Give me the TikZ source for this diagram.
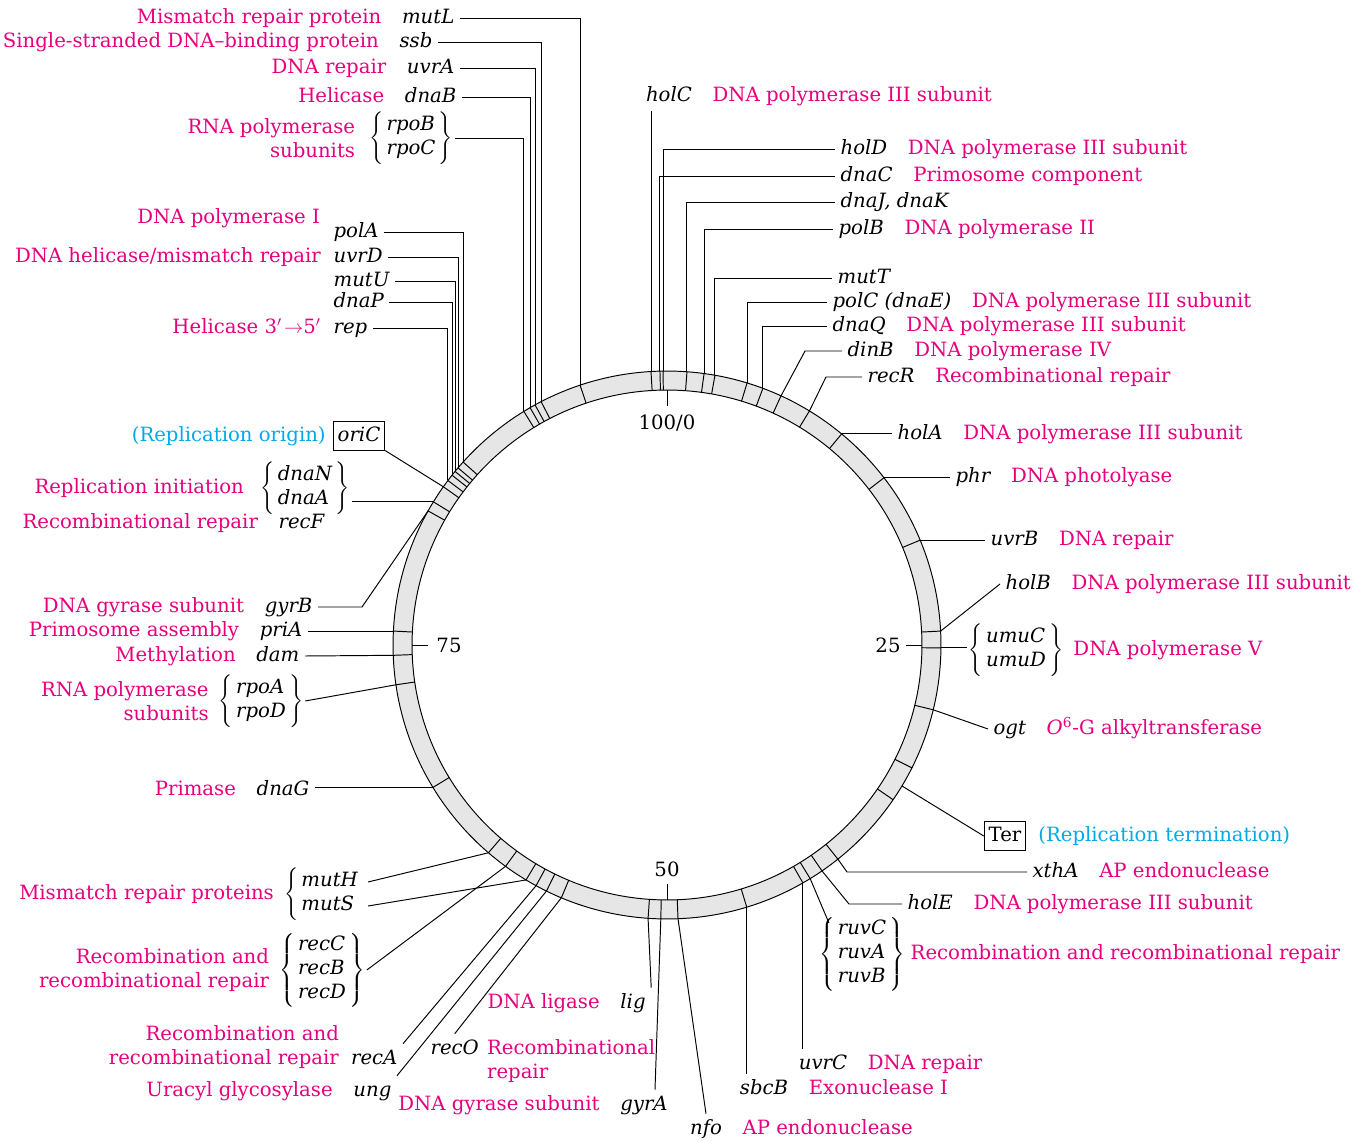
\documentclass[tikz,border=0pt]{standalone}
\usepackage{fontspec}
\setmainfont{DejaVu Serif}
\usetikzlibrary{positioning,calc}

\definecolor{dnapink}{RGB}{230,0,126}
\definecolor{oricyan}{RGB}{0,170,230}
\definecolor{ringfill}{RGB}{230,230,230}

\newcommand{\genefont}{\fontsize{11.2}{13.6}\selectfont}
\newcommand{\genepair}[2]{$\left\{\begin{array}{@{\,}l@{\,}}\textit{#1}\\\textit{#2}\end{array}\right\}$}
\newcommand{\genepairleft}[2]{$\left\{\begin{array}{@{\,}l@{}}\textit{#1}\\\textit{#2}\end{array}\right.$}
\newcommand{\genetriple}[3]{$\left\{\begin{array}{@{\,}l@{\,}}\textit{#1}\\\textit{#2}\\\textit{#3}\end{array}\right\}$}

\tikzset{
  gene/.style={font=\genefont\itshape, inner sep=3pt, text height=8.5pt, text depth=2.5pt},
  func/.style={text=dnapink, inner sep=1pt, text height=8.5pt, text depth=2.5pt},
  functwo/.style={text=dnapink, inner sep=1pt},
  note/.style={text=oricyan, inner sep=1pt, text height=8.5pt, text depth=2.5pt},
  grp/.style={inner sep=1pt},
  site/.style={draw, line width=.6pt, inner sep=2.5pt, text height=8.5pt, text depth=2.5pt},
  lead/.style={line width=.55pt},
  tick/.style={line width=.55pt},
}

\begin{document}
\begin{tikzpicture}[x=0.02cm,y=-0.02cm,every node/.style={font=\genefont},node distance=0.26cm]
  \useasboundingbox (0,0) rectangle (1368,1141);
  \coordinate (C) at (667,645);

  % chromosome ring
  \fill[ringfill, even odd rule] (C) circle (5.48cm) (C) circle (5.1cm);
  \draw[tick] (C) circle (5.48cm);
  \draw[tick] (C) circle (5.1cm);

  % gene positions (min) -> tick across the ring
  \foreach \g/\p in {mutL/94.86, ssb/92.4, uvrA/92.0, dnaB/91.67, rpoBC/91.25,
      polA/86.64, uvrD/86.19, mutU/85.92, dnaP/85.64, rep/85.25,
      oriC/84.8, dnaNA/83.75, gyrB/83.14, priA/75.81, dam/74.4, rpoAD/72.68, dnaG/66.3,
      mutH/61.3, recCBD/60.03, mutS/58.6, recA/57.93, ung/57.25, recO/56.3,
      lig/51.1, gyrA/50.36, nfo/49.36, sbcB/45.3, uvrC/41.74, ruv/41.25, holE/40.43, xthA/39.28,
      TerR/34.55, TerL/32.4, ogt/28.8, umu/25.17, holB/24.19, uvrB/18.75, phr/14.55, holA/11.0,
      recR/8.7, dinB/6.83, dnaQ/5.69, polC/4.72, mutT/2.80, polB/2.16, dnaJK/1.16,
      holC/99.07, dnaC/99.59, holD/99.77} {
    \coordinate (r-\g) at ($(C)+({3.6*\p-90}:274)$);
    \draw[tick] ($(C)+({3.6*\p-90}:255)$) -- (r-\g);
  }
  \coordinate (r-Ter) at ($(C)+({3.6*33.6-90}:274)$);

  % map scale
  \draw[tick] ($(C)+(-90:255)$) -- ($(C)+(-90:239)$);
  \draw[tick] ($(C)+(0:255)$) -- ($(C)+(0:239)$);
  \draw[tick] ($(C)+(90:255)$) -- ($(C)+(90:239)$);
  \draw[tick] ($(C)+(180:255)$) -- ($(C)+(180:239)$);
  \node (m100) at ($(C)+(-90:222)$) {100/0};
  \node (m25) at ($(C)+(0:221)$) {25};
  \node (m50) at ($(C)+(90:224)$) {50};
  \node (m75) at ($(C)+(180:218)$) {75};

  % upper left
  \node[gene, anchor=east] (mutL) at (460,18) {mutL};
  \node[func, left=of mutL] (mutL-f) {Mismatch repair protein};
  \node[gene, anchor=east] (ssb) at (438,42) {ssb};
  \node[func, left=of ssb] (ssb-f) {Single-stranded DNA--binding protein};
  \node[gene, anchor=east] (uvrA) at (460,68) {uvrA};
  \node[func, left=of uvrA] (uvrA-f) {DNA repair};
  \node[gene, anchor=east] (dnaB) at (462,97) {dnaB};
  \node[func, left=of dnaB] (dnaB-f) {Helicase};
  \node[grp, anchor=east] (rpoBC) at (455,138) {\genepair{rpoB}{rpoC}};
  \node[functwo, align=right, left=0.2cm of rpoBC] (rpoBC-f) {RNA polymerase\\subunits};

  \node[gene, anchor=west] (polA) at (328,232) {polA};
  \node[func, anchor=east] (polA-f) at (322,218) {DNA polymerase I};
  \node[gene, anchor=west] (uvrD) at (328,257) {uvrD};
  \node[func, left=0.1cm of uvrD] (uvrD-f) {DNA helicase/mismatch repair};
  \node[gene, anchor=west] (mutU) at (328,281) {mutU};
  \node[gene, anchor=west] (dnaP) at (328,302) {dnaP};
  \node[gene, anchor=west] (rep) at (328,328) {rep};
  \node[func, left=0.1cm of rep] (rep-f) {Helicase 3$'\!\rightarrow$5$'$};

  \node[site, font=\genefont\itshape] (oriC) at (359,436) {oriC};
  \node[note, left=0.1cm of oriC] (oriC-f) {(Replication origin)};
  \node[grp] (dnaNA) at (305,488) {\genepair{dnaN}{dnaA}};
  \node[func, left=0.25cm of dnaNA] (dnaNA-f) {Replication initiation};
  \node[gene, anchor=east] (recF) at (330,523) {recF};
  \node[func, left=of recF] (recF-f) {Recombinational repair};

  % left
  \node[gene, anchor=east] (gyrB) at (318,607) {gyrB};
  \node[func, left=of gyrB] (gyrB-f) {DNA gyrase subunit};
  \node[gene, anchor=east] (priA) at (308,631) {priA};
  \node[func, left=of priA] (priA-f) {Primosome assembly};
  \node[gene, anchor=east] (dam) at (305,656) {dam};
  \node[func, left=of dam] (dam-f) {Methylation};
  \node[grp] (rpoAD) at (261,701) {\genepair{rpoA}{rpoD}};
  \node[functwo, align=right, left=0.12cm of rpoAD] (rpoAD-f) {RNA polymerase\\subunits};
  \node[gene, anchor=east] (dnaG) at (315,790) {dnaG};
  \node[func, left=of dnaG] (dnaG-f) {Primase};

  % lower left
  \node[grp] (mutHS) at (322,894) {\genepairleft{mutH}{mutS}};
  \node[func, left=0.12cm of mutHS] (mutHS-f) {Mismatch repair proteins};
  \node[grp] (recCBD) at (322,970) {\genetriple{recC}{recB}{recD}};
  \node[functwo, align=right, left=0.12cm of recCBD] (recCBD-f) {Recombination and\\recombinational repair};
  \node[gene, anchor=east] (recA) at (403,1059) {recA};
  \node[functwo, align=right, anchor=east] (recA-f) at (341,1047) {Recombination and\\recombinational repair};
  \node[gene, anchor=east] (ung) at (397,1091) {ung};
  \node[func, left=of ung] (ung-f) {Uracyl glycosylase};
  \node[gene, anchor=west] (recO) at (425,1049) {recO};
  \node[functwo, align=left, anchor=west] (recO-f) at (485,1061) {Recombinational\\repair};
  \node[gene] (lig) at (633,1003) {lig};
  \node[func, left=of lig] (lig-f) {DNA ligase};
  \node[gene] (gyrA) at (644,1105) {gyrA};
  \node[func, left=of gyrA] (gyrA-f) {DNA gyrase subunit};

  % lower right
  \node[gene] (nfo) at (706,1129) {nfo};
  \node[func, right=of nfo] (nfo-f) {AP endonuclease};
  \node[gene] (sbcB) at (764,1089) {sbcB};
  \node[func, right=of sbcB] (sbcB-f) {Exonuclease I};
  \node[gene] (uvrC) at (823,1064) {uvrC};
  \node[func, right=of uvrC] (uvrC-f) {DNA repair};
  \node[grp] (ruv) at (862,954) {\genetriple{ruvC}{ruvA}{ruvB}};
  \node[func, right=0.03cm of ruv] (ruv-f) {Recombination and recombinational repair};
  \node[gene, anchor=west] (holE) at (902,904) {holE};
  \node[func, right=of holE] (holE-f) {DNA polymerase III subunit};
  \node[gene, anchor=west] (xthA) at (1027,872) {xthA};
  \node[func, right=of xthA] (xthA-f) {AP endonuclease};
  \node[site] (Ter) at (1005,836) {Ter};
  \node[note, right=0.2cm of Ter] (Ter-f) {(Replication termination)};

  % right
  \node[gene, anchor=west] (ogt) at (988,729) {ogt};
  \node[func, right=of ogt] (ogt-f) {\textit{O}\textsuperscript{6}-G alkyltransferase};
  \node[grp] (umu) at (1016,650) {\genepair{umuC}{umuD}};
  \node[func, right=0.12cm of umu] (umu-f) {DNA polymerase V};
  \node[gene, anchor=west] (holB) at (1000,584) {holB};
  \node[func, right=of holB] (holB-f) {DNA polymerase III subunit};
  \node[gene, anchor=west] (uvrB) at (985,540) {uvrB};
  \node[func, right=of uvrB] (uvrB-f) {DNA repair};
  \node[gene, anchor=west] (phr) at (950,477) {phr};
  \node[func, right=of phr] (phr-f) {DNA photolyase};
  \node[gene, anchor=west] (holA) at (892,434) {holA};
  \node[func, right=of holA] (holA-f) {DNA polymerase III subunit};

  % upper right
  \node[gene, anchor=west] (recR) at (862,377) {recR};
  \node[func, right=of recR] (recR-f) {Recombinational repair};
  \node[gene, anchor=west] (dinB) at (842,351) {dinB};
  \node[func, right=of dinB] (dinB-f) {DNA polymerase IV};
  \node[gene, anchor=west] (dnaQ) at (827,326) {dnaQ};
  \node[func, right=of dnaQ] (dnaQ-f) {DNA polymerase III subunit};
  \node[gene, anchor=west] (polC) at (827,302) {polC (dnaE)};
  \node[func, right=of polC] (polC-f) {DNA polymerase III subunit};
  \node[gene, anchor=west] (mutT) at (832,278) {mutT};
  \node[gene, anchor=west] (polB) at (833,229) {polB};
  \node[func, right=of polB] (polB-f) {DNA polymerase II};
  \node[gene, anchor=west] (dnaJK) at (835,202) {dnaJ, dnaK};
  \node[gene, anchor=west] (dnaC) at (835,176) {dnaC};
  \node[func, right=of dnaC] (dnaC-f) {Primosome component};
  \node[gene, anchor=west] (holD) at (835,149) {holD};
  \node[func, right=of holD] (holD-f) {DNA polymerase III subunit};
  \node[gene] (holC) at (669,96) {holC};
  \node[func, right=of holC] (holC-f) {DNA polymerase III subunit};

  % leaders
  \foreach \g in {mutL,ssb,uvrA,dnaB,rpoBC,polA,uvrD,mutU,dnaP,rep}
    \draw[lead] (r-\g) |- (\g.east);
  \foreach \g in {holD,dnaC,dnaJK,polB,mutT,polC,dnaQ}
    \draw[lead] (r-\g) |- (\g.west);
  \foreach \g in {dnaNA,priA,dnaG}
    \draw[lead] (r-\g) -- (r-\g -| \g.east);
  \foreach \g in {umu,uvrB,phr,holA}
    \draw[lead] (r-\g) -- (r-\g -| \g.west);
  \foreach \g in {dam,rpoAD,recCBD}
    \draw[lead] (\g.east) -- (r-\g);
  \foreach \g in {Ter,ogt,holB}
    \draw[lead] (\g.west) -- (r-\g);
  \draw[lead] (r-holC) -- (r-holC |- holC.south);
  \draw[lead] (r-sbcB) -- (r-sbcB |- sbcB.north);
  \draw[lead] (r-uvrC) -- (r-uvrC |- uvrC.north);
  \draw[lead] (oriC.south east) -- (r-oriC);
  \draw[lead] (gyrB.east) -- ++(44,0) -- (r-gyrB);
  \draw[lead] ($(mutHS.east)+(6,-12)$) -- (r-mutH);
  \draw[lead] ($(mutHS.east)+(6,12)$) -- (r-mutS);
  \draw[lead] (recA.north east) -- (r-recA);
  \draw[lead] (ung.north east) -- (r-ung);
  \draw[lead] (recO.north) -- (r-recO);
  \draw[lead] (lig.north east) -- (r-lig);
  \draw[lead] ($(gyrA.north)+(11,0)$) -- (r-gyrA);
  \draw[lead] (nfo.north) -- (r-nfo);
  \draw[lead] ($(ruv.north west)+(12,8)$) -- (r-ruv);
  \draw[lead] (holE.west) -- ++(-53,0) -- (r-holE);
  \draw[lead] (xthA.west) -- ++(-180,0) -- (r-xthA);
  \draw[lead] (dinB.west) -- ++(-37,0) -- (r-dinB);
  \draw[lead] (recR.west) -- ++(-36,0) -- (r-recR);
\end{tikzpicture}
\end{document}
